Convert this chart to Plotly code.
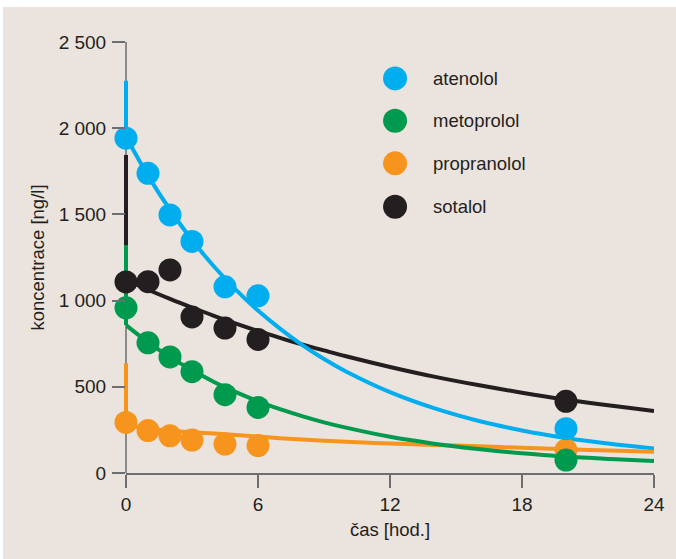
import plotly.graph_objects as go

# Measured concentrations (ng/l) at sampling times (hours)
sample_times = [0, 1, 2, 3, 4.5, 6, 20]
atenolol = [1942, 1738, 1497, 1343, 1080, 1028, 257]
metoprolol = [958, 755, 673, 588, 454, 380, 75]
propranolol = [293, 246, 216, 191, 168, 159, 133]
sotalol = [1108, 1110, 1178, 905, 841, 775, 416]

# Fitted concentration curves
curve_times = [0, 1, 2, 3, 4, 5, 6, 7, 8, 9, 10, 12, 14, 16, 18, 20, 22, 24]
atenolol_fit = [1950, 1725, 1527, 1352, 1198, 1062, 942, 837, 743, 661, 589,
                469, 376, 303, 247, 203, 169, 142]
metoprolol_fit = [858, 759, 672, 597, 528, 469, 416, 370, 330, 294, 263,
                  210, 170, 139, 114, 95, 81, 69]
sotalol_fit = [1120, 1063, 1010, 960, 912, 867, 824, 784, 746, 711, 677,
               615, 559, 510, 466, 426, 391, 360]
propranolol_times = [0, 0.5, 1, 2, 3, 4, 5, 6, 7, 8, 9, 10, 12, 14, 16, 18, 20, 22, 24]
propranolol_fit = [300, 268, 256, 245, 237, 229, 220, 211, 202, 194, 187, 181,
                   171, 163, 155, 146, 138, 130, 123]

# Peak value reached right after dosing (drawn as a spike at t = 0)
peaks = {"atenolol": 2275, "metoprolol": 1322, "propranolol": 636, "sotalol": 1845}

names = ["atenolol", "metoprolol", "propranolol", "sotalol"]
colors = {"atenolol": "#00AEEF", "metoprolol": "#009A4E",
          "propranolol": "#F7941D", "sotalol": "#231F20"}
measured = {"atenolol": atenolol, "metoprolol": metoprolol,
            "propranolol": propranolol, "sotalol": sotalol}
fits = {"atenolol": (curve_times, atenolol_fit),
        "metoprolol": (curve_times, metoprolol_fit),
        "propranolol": (propranolol_times, propranolol_fit),
        "sotalol": (curve_times, sotalol_fit)}

y_ticks = [0, 500, 1000, 1500, 2000, 2500]
y_tick_labels = ["0", "500", "1 000", "1 500", "2 000", "2 500"]
x_ticks = [0, 6, 12, 18, 24]

legend_y = [2289, 2043, 1796, 1545]

BG = "#EBE3DE"
AXIS = "#6D6E71"
TEXT = "#231F20"
FONT = "Liberation Sans, Arial, Helvetica, sans-serif"

W, H = 676, 559
ml, mr, mt, mb = 126, 22, 42, 86
pw, ph = W - ml - mr, H - mt - mb

def px(x):
    return (x - ml) / pw

def py(y):
    return (H - mb - y) / ph

fig = go.Figure()

# page background panel with a thin white border at the top and left
fig.add_shape(type="rect", xref="paper", yref="paper", x0=px(3), x1=px(W), y0=py(H), y1=py(7),
              fillcolor=BG, line=dict(width=0), layer="below")

# y axis line, then the dosing spikes on top of it (x given in paper units so
# the full line width stays visible at the left edge)
fig.add_shape(type="line", xref="paper", yref="y", x0=0, x1=0, y0=0, y1=2500,
              line=dict(color=AXIS, width=1.5), layer="below")
for name in ["sotalol", "metoprolol", "propranolol", "atenolol"]:
    t, c = fits[name]
    fig.add_shape(type="line", xref="paper", yref="y", x0=0, x1=0,
                  y0=c[0], y1=peaks[name],
                  line=dict(color=colors[name], width=4), layer="below")

# fitted curves
for name in ["sotalol", "atenolol", "propranolol", "metoprolol"]:
    t, c = fits[name]
    fig.add_trace(go.Scatter(x=t, y=c, mode="lines", line_shape="spline",
                             line=dict(color=colors[name], width=4),
                             cliponaxis=False, showlegend=False, hoverinfo="skip"))

# measured points
for name in ["propranolol", "sotalol", "atenolol", "metoprolol"]:
    fig.add_trace(go.Scatter(x=sample_times, y=measured[name], mode="markers",
                             marker=dict(color=colors[name], size=23, line=dict(width=0)),
                             cliponaxis=False, showlegend=False, name=name))

# legend
for name, ly in zip(names, legend_y):
    fig.add_trace(go.Scatter(x=[12.23], y=[ly], mode="markers",
                             marker=dict(color=colors[name], size=24, line=dict(width=0)),
                             cliponaxis=False, showlegend=False, hoverinfo="skip"))
    fig.add_annotation(x=13.85, y=ly, text=name, showarrow=False, xanchor="left",
                       yanchor="middle", font=dict(family=FONT, size=18.5, color=TEXT))

fig.update_layout(
    width=W, height=H,
    margin=dict(l=ml, r=mr, t=mt, b=mb, pad=0),
    paper_bgcolor="white", plot_bgcolor="rgba(0,0,0,0)",
    font=dict(family=FONT, size=18, color=TEXT),
    xaxis=dict(range=[0, 24], tickvals=x_ticks, showgrid=False, zeroline=False,
               showline=True, linecolor=AXIS, linewidth=1.5,
               ticks="outside", ticklen=13, tickwidth=1.5, tickcolor=AXIS,
               tickfont=dict(size=19, color=TEXT),
               title=dict(text="čas [hod.]", font=dict(size=18.5, color=TEXT), standoff=10)),
    yaxis=dict(range=[0, 2500], tickvals=y_ticks, ticktext=y_tick_labels,
               showgrid=False, zeroline=False, showline=False,
               ticks="outside", ticklen=13, tickwidth=1.5, tickcolor=AXIS,
               ticklabelstandoff=2,
               tickfont=dict(size=19, color=TEXT),
               title=dict(text="koncentrace [ng/l]", font=dict(size=18.5, color=TEXT), standoff=9)),
)

fig.write_html("out.html")
